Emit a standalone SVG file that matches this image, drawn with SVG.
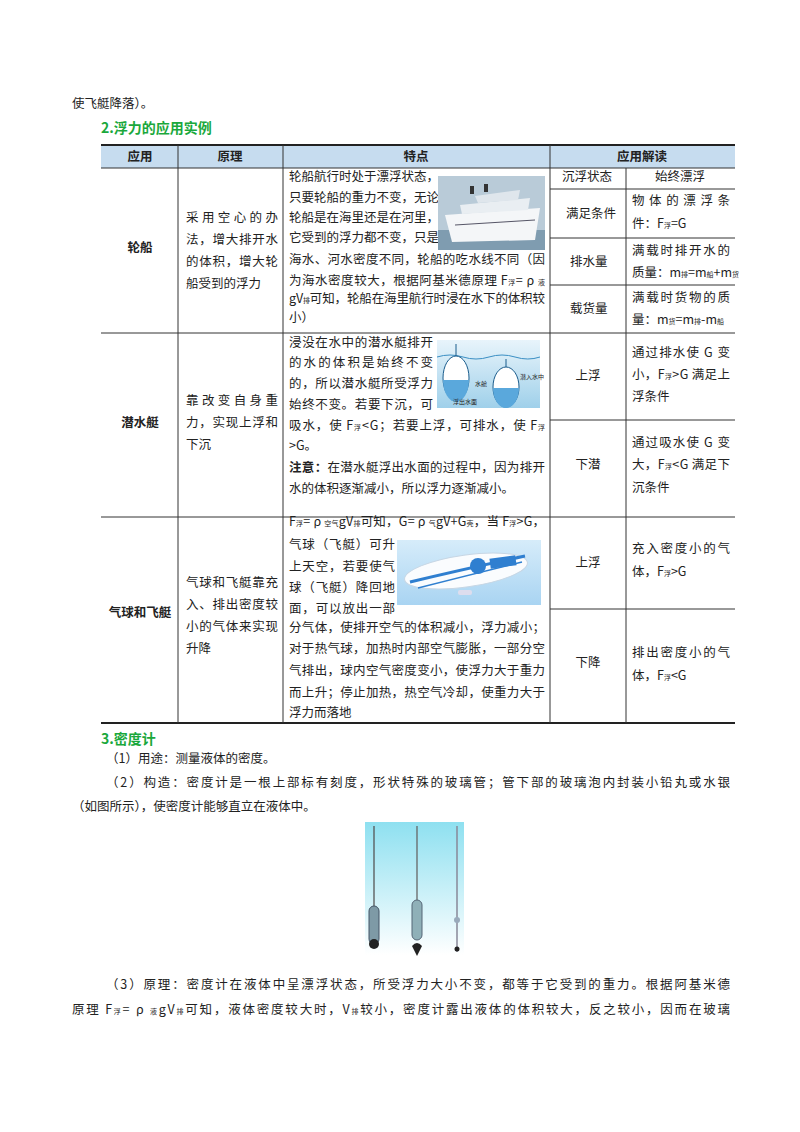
<svg xmlns="http://www.w3.org/2000/svg" width="800" height="1132" viewBox="0 0 800 1132">
<defs>
<style>
text{font-family:"Noto Sans CJK SC","Liberation Serif",serif;font-size:12.5px;fill:#222}
.h{fill:#1aa83c;font-weight:bold;font-size:14px}
.b{font-weight:bold}
.c{text-anchor:middle}
.s{font-size:7px}
.ln{stroke:#333;stroke-width:1;fill:none}
.th{stroke:#222;stroke-width:2}
</style>
<linearGradient id="sea" x1="0" y1="0" x2="0" y2="1"><stop offset="0" stop-color="#e8f4fb"/><stop offset="1" stop-color="#9fd0ea"/></linearGradient>
<linearGradient id="sky" x1="0" y1="0" x2="0" y2="1"><stop offset="0" stop-color="#8ee0f0"/><stop offset="1" stop-color="#ffffff"/></linearGradient>
<linearGradient id="air" x1="0" y1="0" x2="0" y2="1"><stop offset="0" stop-color="#d6ecfa"/><stop offset="1" stop-color="#a9d4f2"/></linearGradient>
</defs>
<rect width="800" height="1132" fill="#fff"/>
<text x="72" y="108">使飞艇降落）。</text>
<text class="h" x="101" y="133">2.浮力的应用实例</text>

<g id="table">
<rect x="101" y="145" width="634" height="23" fill="#c6dcef"/>
<line class="th" x1="101" y1="145" x2="735" y2="145"/>
<line class="th" x1="101" y1="723" x2="735" y2="723"/>
<g class="ln">
<line x1="101" y1="168" x2="735" y2="168"/>
<line x1="101" y1="333" x2="735" y2="333"/>
<line x1="101" y1="517" x2="735" y2="517"/>
<line x1="178" y1="145" x2="178" y2="723"/>
<line x1="283" y1="145" x2="283" y2="723"/>
<line x1="550" y1="145" x2="550" y2="723"/>
<line x1="626" y1="168" x2="626" y2="723"/>
<line x1="550" y1="189" x2="735" y2="189"/>
<line x1="550" y1="238" x2="735" y2="238"/>
<line x1="550" y1="285" x2="735" y2="285"/>
<line x1="550" y1="420" x2="735" y2="420"/>
<line x1="550" y1="609" x2="735" y2="609"/>
</g>
<text class="b c" x="140" y="161">应用</text>
<text class="b c" x="230" y="161">原理</text>
<text class="b c" x="416" y="161">特点</text>
<text class="b c" x="642" y="161">应用解读</text>
</g>

<g id="row-ship">
<text class="b c" x="140" y="252">轮船</text>
<text x="186" y="222" textLength="92">采用空心的办</text>
<text x="186" y="244" textLength="92">法，增大排开水</text>
<text x="186" y="266" textLength="92">的体积，增大轮</text>
<text x="186" y="288">船受到的浮力</text>
<text x="289" y="181">轮船航行时处于漂浮状态，</text>
<text x="289" y="202">只要轮船的重力不变，无论</text>
<text x="289" y="222">轮船是在海里还是在河里，</text>
<text x="289" y="242">它受到的浮力都不变，只是</text>
<text x="289" y="264" textLength="256">海水、河水密度不同，轮船的吃水线不同（因</text>
<text x="289" y="285" textLength="256">为海水密度较大，根据阿基米德原理 F<tspan class="s">浮</tspan>= ρ <tspan class="s">液</tspan></text>
<text x="289" y="303" textLength="256">gV<tspan class="s">排</tspan>可知，轮船在海里航行时浸在水下的体积较</text>
<text x="289" y="322">小）</text>
<g id="img-ship">
<rect x="438" y="176" width="107" height="74" fill="#b9cbd8"/>
<rect x="438" y="230" width="107" height="20" fill="#7f9cb0"/>
<path d="M445 215 L540 208 L535 240 L452 242 Z" fill="#f4f6f8"/>
<path d="M460 205 L530 198 L528 210 L462 214 Z" fill="#e9eef2"/>
<path d="M475 196 L520 190 L518 200 L478 203 Z" fill="#dfe6ec"/>
<rect x="470" y="186" width="4" height="8" fill="#333"/><rect x="484" y="184" width="4" height="8" fill="#333"/>
<line x1="455" y1="225" x2="535" y2="220" stroke="#556" stroke-width="1"/>
</g>
<text x="562" y="181">沉浮状态</text>
<text class="c" x="680" y="181">始终漂浮</text>
<text x="566" y="218">满足条件</text>
<text x="632" y="205" textLength="98">物体的漂浮条</text>
<text x="632" y="228">件：F<tspan class="s">浮</tspan>=G</text>
<text x="570" y="266">排水量</text>
<text x="632" y="255" textLength="98">满载时排开水的</text>
<text x="632" y="277">质量：m<tspan class="s">排</tspan>=m<tspan class="s">船</tspan>+m<tspan class="s">货</tspan></text>
<text x="570" y="313">载货量</text>
<text x="632" y="302" textLength="98">满载时货物的质</text>
<text x="632" y="324">量：m<tspan class="s">货</tspan>=m<tspan class="s">排</tspan>-m<tspan class="s">船</tspan></text>
</g>

<g id="row-sub">
<text class="b c" x="140" y="427">潜水艇</text>
<text x="186" y="405" textLength="92">靠改变自身重</text>
<text x="186" y="427" textLength="92">力，实现上浮和</text>
<text x="186" y="449">下沉</text>
<text x="289" y="347" textLength="144">浸没在水中的潜水艇排开</text>
<text x="289" y="367" textLength="144">的水的体积是始终不变</text>
<text x="289" y="388" textLength="144">的，所以潜水艇所受浮力</text>
<text x="289" y="409" textLength="144">始终不变。若要下沉，可</text>
<text x="289" y="430" textLength="256">吸水，使 F<tspan class="s">浮</tspan>&lt;G；若要上浮，可排水，使 F<tspan class="s">浮</tspan></text>
<text x="289" y="450">&gt;G。</text>
<text x="289" y="472" textLength="256"><tspan class="b">注意：</tspan>在潜水艇浮出水面的过程中，因为排开</text>
<text x="289" y="493">水的体积逐渐减小，所以浮力逐渐减小。</text>
<g id="img-sub">
<rect x="437" y="340" width="103" height="68" fill="url(#sea)"/>
<path d="M437 357 Q450 353 463 357 T489 357 T515 357 T540 357" stroke="#3b8fc4" fill="none"/>
<ellipse cx="456" cy="378" rx="13" ry="22" fill="#fff" stroke="#1a5c8c"/>
<path d="M443 380 A13 22 0 0 0 469 380 Z" fill="#5aa8dc"/>
<line x1="456" y1="356" x2="456" y2="344" stroke="#1a5c8c"/>
<ellipse cx="506" cy="387" rx="13" ry="20" fill="#fff" stroke="#1a5c8c"/>
<path d="M493 388 A13 20 0 0 0 519 388 Z" fill="#5aa8dc"/>
<line x1="506" y1="367" x2="506" y2="359" stroke="#1a5c8c"/>
<text x="520" y="379" style="font-size:6px">潜入水中</text>
<text x="475" y="386" style="font-size:6px">水舱</text>
<text x="453" y="404" style="font-size:6px">浮出水面</text>
</g>
<text class="c" x="588" y="380">上浮</text>
<text x="632" y="357" textLength="98">通过排水使 G 变</text>
<text x="632" y="379" textLength="98">小，F<tspan class="s">浮</tspan>&gt;G 满足上</text>
<text x="632" y="401">浮条件</text>
<text class="c" x="588" y="469">下潜</text>
<text x="632" y="447" textLength="98">通过吸水使 G 变</text>
<text x="632" y="469" textLength="98">大，F<tspan class="s">浮</tspan>&lt;G 满足下</text>
<text x="632" y="492">沉条件</text>
</g>

<g id="row-balloon">
<text class="b c" x="140" y="617">气球和飞艇</text>
<text x="186" y="587" textLength="92">气球和飞艇靠充</text>
<text x="186" y="609" textLength="92">入、排出密度较</text>
<text x="186" y="631" textLength="92">小的气体来实现</text>
<text x="186" y="653">升降</text>
<text x="289" y="526" textLength="256">F<tspan class="s">浮</tspan>= ρ <tspan class="s">空气</tspan>gV<tspan class="s">排</tspan>可知，G= ρ <tspan class="s">气</tspan>gV+G<tspan class="s">壳</tspan>，当 F<tspan class="s">浮</tspan>&gt;G，</text>
<text x="289" y="549" textLength="106">气球（飞艇）可升</text>
<text x="289" y="571" textLength="106">上天空，若要使气</text>
<text x="289" y="592" textLength="106">球（飞艇）降回地</text>
<text x="289" y="613" textLength="106">面，可以放出一部</text>
<text x="289" y="632" textLength="256">分气体，使排开空气的体积减小，浮力减小；</text>
<text x="289" y="653" textLength="256">对于热气球，加热时内部空气膨胀，一部分空</text>
<text x="289" y="675" textLength="256">气排出，球内空气密度变小，使浮力大于重力</text>
<text x="289" y="697" textLength="256">而上升；停止加热，热空气冷却，使重力大于</text>
<text x="289" y="717">浮力而落地</text>
<g id="img-airship">
<rect x="397" y="540" width="144" height="65" fill="url(#air)"/>
<ellipse cx="466" cy="571" rx="62" ry="16" fill="#fafcfe" stroke="#c7d6e4" transform="rotate(-8 466 571)"/>
<path d="M410 582 Q460 570 525 556" stroke="#2f7fd0" stroke-width="3" fill="none"/>
<path d="M418 588 Q465 576 522 562" stroke="#2f7fd0" stroke-width="1.5" fill="none"/>
<circle cx="478" cy="566" r="8" fill="#2f7fd0"/>
<rect x="490" y="557" width="26" height="10" fill="#2f7fd0" transform="rotate(-8 503 562)"/>
<rect x="458" y="590" width="14" height="5" rx="2" fill="#dde"/>
</g>
<text class="c" x="588" y="567">上浮</text>
<text x="632" y="553" textLength="98">充入密度小的气</text>
<text x="632" y="576">体，F<tspan class="s">浮</tspan>&gt;G</text>
<text class="c" x="588" y="667">下降</text>
<text x="632" y="657" textLength="98">排出密度小的气</text>
<text x="632" y="680">体，F<tspan class="s">浮</tspan>&lt;G</text>
</g>

<text class="h" x="101" y="744">3.密度计</text>
<text x="106" y="763">（1）用途：测量液体的密度。</text>
<text x="106" y="787" textLength="624">（2）构造：密度计是一根上部标有刻度，形状特殊的玻璃管；管下部的玻璃泡内封装小铅丸或水银</text>
<text x="72" y="811">（如图所示），使密度计能够直立在液体中。</text>
<g id="img-hydrometer">
<rect x="365" y="822" width="99" height="133" fill="url(#sky)"/>
<line x1="374" y1="826" x2="374" y2="906" stroke="#555" stroke-width="1.3"/>
<rect x="369" y="906" width="10" height="38" rx="5" fill="#7e9aa6" stroke="#456"/>
<ellipse cx="374" cy="944" rx="5" ry="5" fill="#222"/>
<line x1="417" y1="826" x2="417" y2="900" stroke="#666" stroke-width="1.3"/>
<rect x="412" y="900" width="10" height="40" rx="5" fill="#8fb0b8" stroke="#567"/>
<path d="M412 946 Q417 940 422 946 L417 956 Z" fill="#222"/>
<line x1="457" y1="826" x2="457" y2="952" stroke="#889" stroke-width="1.5"/>
<circle cx="457" cy="920" r="3" fill="#9ab"/>
<circle cx="457" cy="949" r="2.5" fill="#222"/>
</g>
<text x="106" y="989" textLength="624">（3）原理：密度计在液体中呈漂浮状态，所受浮力大小不变，都等于它受到的重力。根据阿基米德</text>
<text x="72" y="1014" textLength="658">原理 F<tspan class="s">浮</tspan>= ρ <tspan class="s">液</tspan>gV<tspan class="s">排</tspan>可知，液体密度较大时，V<tspan class="s">排</tspan>较小，密度计露出液体的体积较大，反之较小，因而在玻璃</text>
</svg>
